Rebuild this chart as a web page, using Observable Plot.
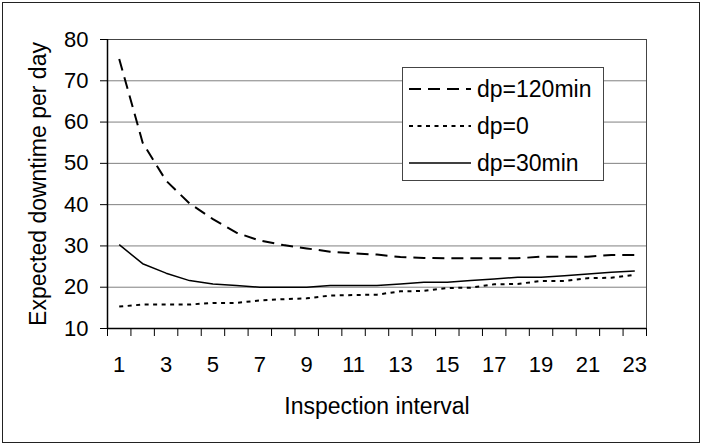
<!DOCTYPE html>
<html>
<head>
<meta charset="utf-8">
<script src="https://cdn.jsdelivr.net/npm/d3@7"></script>
<script src="https://cdn.jsdelivr.net/npm/@observablehq/plot@0.6"></script>
<style>
  html, body { margin: 0; padding: 0; background: #fff; }
  #wrap { position: relative; width: 703px; height: 445px; overflow: hidden; }
  #border { position: absolute; left: 2px; top: 2px; width: 698px; height: 441px; box-sizing: border-box; border: 1.5px solid #222; pointer-events: none; }
  #legend { position: absolute; left: 0; top: 0; }
</style>
</head>
<body>
<div id="wrap"><div id="border"></div></div>
<script>
// ---- data ----
const intervals = [1,2,3,4,5,6,7,8,9,10,11,12,13,14,15,16,17,18,19,20,21,22,23];
const dp120 = [75.3,55.0,45.8,40.3,36.5,33.2,31.3,30.2,29.4,28.6,28.2,27.9,27.3,27.1,27.0,27.0,27.0,27.0,27.4,27.4,27.4,27.8,27.8];
const dp0   = [15.3,15.8,15.8,15.8,16.2,16.2,16.8,17.1,17.3,18.0,18.1,18.2,19.0,19.1,19.8,19.9,20.7,20.8,21.5,21.5,22.2,22.3,23.0];
const dp30  = [30.3,25.7,23.4,21.6,20.8,20.4,20.0,20.0,20.0,20.4,20.4,20.4,20.8,21.2,21.2,21.6,22.0,22.4,22.4,22.8,23.2,23.6,23.9];
const seriesNames = ["dp=120min", "dp=0", "dp=30min"];
const yTicks = [10,20,30,40,50,60,70,80];
const xTickLabels = [1,3,5,7,9,11,13,15,17,19,21,23];
const xTitle = "Inspection interval";
const yTitle = "Expected downtime per day";

const font = "'Liberation Sans', Arial, Helvetica, sans-serif";
const styles = {
  "dp=120min": {dash: "12,7", width: 2},
  "dp=0": {dash: "4,4.5", width: 2},
  "dp=30min": {dash: null, width: 1.5}
};

const seriesValues = [dp120, dp0, dp30];
const rows = [];
seriesNames.forEach((s, k) => intervals.forEach((iv, i) => rows.push({series: s, interval: iv, value: seriesValues[k][i]})));
const bounds = intervals.map(d => d - 0.5).concat([intervals[intervals.length - 1] + 0.5]);

const lineMarks = seriesNames.map(s => Plot.line(rows.filter(r => r.series === s), {
  x: "interval", y: "value", stroke: "black",
  strokeWidth: styles[s].width,
  strokeDasharray: styles[s].dash || undefined,
  strokeLinecap: "butt", strokeLinejoin: "round"
}));

const chart = Plot.plot({
  width: 703, height: 445,
  marginLeft: 107, marginRight: 57, marginTop: 39, marginBottom: 117,
  x: {type: "linear", domain: [bounds[0], bounds[bounds.length - 1]]},
  y: {domain: [10, 80]},
  style: {fontFamily: font, fontSize: "22px", color: "black", background: "transparent"},
  marks: [
    Plot.gridY(yTicks, {stroke: "#808080", strokeOpacity: 1, strokeWidth: 1}),
    Plot.frame({stroke: "#444", strokeWidth: 1}),
    Plot.axisY(yTicks, {tickSize: 7, tickPadding: 12, label: null, stroke: "black", fontSize: 22}),
    Plot.axisX(bounds, {tickSize: 8, tickFormat: () => "", label: null, stroke: "black"}),
    Plot.axisX(xTickLabels, {tickSize: 0, tickPadding: 28, label: null, fontSize: 22}),
    Plot.ruleX([bounds[0]], {stroke: "black", strokeWidth: 1.5}),
    Plot.ruleY([10], {stroke: "black", strokeWidth: 1.5}),
    ...lineMarks,
    Plot.text([yTitle], {frameAnchor: "left", rotate: -90, dx: -62, lineAnchor: "bottom", textAnchor: "middle", fontSize: 23, fill: "black"}),
    Plot.text([xTitle], {frameAnchor: "bottom", dy: 85, lineAnchor: "bottom", textAnchor: "middle", fontSize: 23, fill: "black"})
  ]
});
const wrap = document.getElementById("wrap");
wrap.insertBefore(chart, wrap.firstChild);

// ---- legend ----
const lg = d3.select("#wrap").append("svg").attr("id", "legend")
  .attr("width", 703).attr("height", 445);
lg.append("rect").attr("x", 402.5).attr("y", 67.5).attr("width", 201).attr("height", 113)
  .attr("fill", "white").attr("stroke", "#444").attr("stroke-width", 1);
seriesNames.forEach((s, i) => {
  const cy = 89 + i * 37;
  lg.append("line").attr("x1", 409).attr("x2", 471).attr("y1", cy).attr("y2", cy)
    .attr("stroke", "black").attr("stroke-width", styles[s].width)
    .attr("stroke-dasharray", styles[s].dash);
  lg.append("text").attr("x", 477).attr("y", cy + 8).text(s)
    .attr("font-family", font).attr("font-size", 23).attr("fill", "black");
});
</script>
</body>
</html>
